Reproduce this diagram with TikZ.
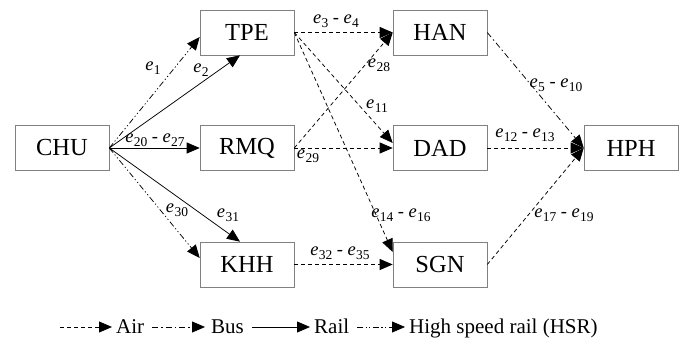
\documentclass[tikz,border=0pt]{standalone}
\usepackage{fontspec}
\setmainfont{Liberation Serif}
\usetikzlibrary{arrows.meta}
\newcommand\ee[1]{\textit{e}\kern0.3pt\raisebox{-0.45ex}{\fontsize{13.5}{13.5}\selectfont #1}}
\begin{document}
\begin{tikzpicture}[x=1pt,y=-1pt,
 box/.style={draw=black!50, line width=0.6pt, minimum width=94pt, minimum height=45pt, inner sep=0pt, font=\fontsize{24.5}{27}\selectfont},
 lbl/.style={inner sep=0pt, font=\fontsize{18.5}{20}\selectfont},
 conn/.style={line width=0.75pt, -{Triangle[length=13pt,width=11pt]}},
 air/.style={conn, dash pattern=on 4pt off 3pt},
 bus/.style={conn, dash pattern=on 6pt off 3pt on 1.5pt off 3pt},
 rail/.style={conn},
 hsr/.style={conn, dash pattern=on 6pt off 2.5pt on 1.2pt off 2.5pt on 1.2pt off 2.5pt},
 leg/.style={inner sep=0pt, anchor=base west, font=\fontsize{21}{23}\selectfont}]
\useasboundingbox (0,0) rectangle (683,355);
% boxes
\node[box] (CHU) at (62,148) {CHU};
\node[box] (TPE) at (247,32.5) {TPE};
\node[box] (RMQ) at (247,148) {RMQ};
\node[box] (KHH) at (247,264.5) {KHH};
\node[box] (HAN) at (440,32.5) {HAN};
\node[box] (DAD) at (440,148) {DAD};
\node[box] (SGN) at (440,264.5) {SGN};
\node[box] (HPH) at (631,148) {HPH};
% connectors
\draw[hsr]  (CHU.east) -- ([yshift=-4.5pt]TPE.west);
\draw[rail] (CHU.east) -- ([xshift=-7pt]TPE.south);
\draw[rail] (CHU.east) -- (RMQ.west);
\draw[hsr]  (CHU.east) -- ([yshift=6.5pt]KHH.west);
\draw[rail] (CHU.east) -- ([xshift=-7pt]KHH.north);
\draw[air]  (TPE.east) -- (HAN.west);
\draw[air]  (TPE.east) -- ([yshift=5pt]DAD.west);
\draw[air]  (TPE.east) -- ([yshift=12.5pt]SGN.west);
\draw[air]  (RMQ.east) -- (HAN.west);
\draw[air]  (RMQ.east) -- (DAD.west);
\draw[air]  (KHH.east) -- (SGN.west);
\draw[bus]  (HAN.east) -- (HPH.west);
\draw[air]  (DAD.east) -- (HPH.west);
\draw[air]  (SGN.east) -- (HPH.west);
% labels
\node[lbl] (l1) at (153,68) {\ee{1}};
\node[lbl] (l2) at (201,70) {\ee{2}};
\node[lbl] (l20) at (155,140) {\ee{20} - \ee{27}};
\node[lbl] (l30) at (177,210) {\ee{30}};
\node[lbl] (l31) at (228,215) {\ee{31}};
\node[lbl] (l3) at (336,21) {\ee{3} - \ee{4}};
\node[lbl] (l28) at (379,65) {\ee{28}};
\node[lbl] (l11) at (377,106) {\ee{11}};
\node[lbl] (l29) at (308,156) {\ee{29}};
\node[lbl] (l5) at (556,85) {\ee{5} - \ee{10}};
\node[lbl] (l12) at (525,135) {\ee{12} - \ee{13}};
\node[lbl] (l14) at (401,215) {\ee{14} - \ee{16}};
\node[lbl] (l17) at (564,215) {\ee{17} - \ee{19}};
\node[lbl] (l32) at (340,253) {\ee{32} - \ee{35}};
% legend
\coordinate (a1) at (60,327);  \coordinate (a2) at (112,327);
\coordinate (b1) at (152,327); \coordinate (b2) at (205,327);
\coordinate (r1) at (252,327); \coordinate (r2) at (310,327);
\coordinate (h1) at (357,327); \coordinate (h2) at (405,327);
\draw[air] (a1) -- (a2);
\draw[bus] (b1) -- (b2);
\draw[rail] (r1) -- (r2);
\draw[hsr] (h1) -- (h2);
\node[leg] (tA) at (116,334) {Air};
\node[leg] (tB) at (211,334) {Bus};
\node[leg] (tR) at (314,334) {Rail};
\node[leg] (tH) at (409,334) {High speed rail (HSR)};
\end{tikzpicture}
\end{document}
